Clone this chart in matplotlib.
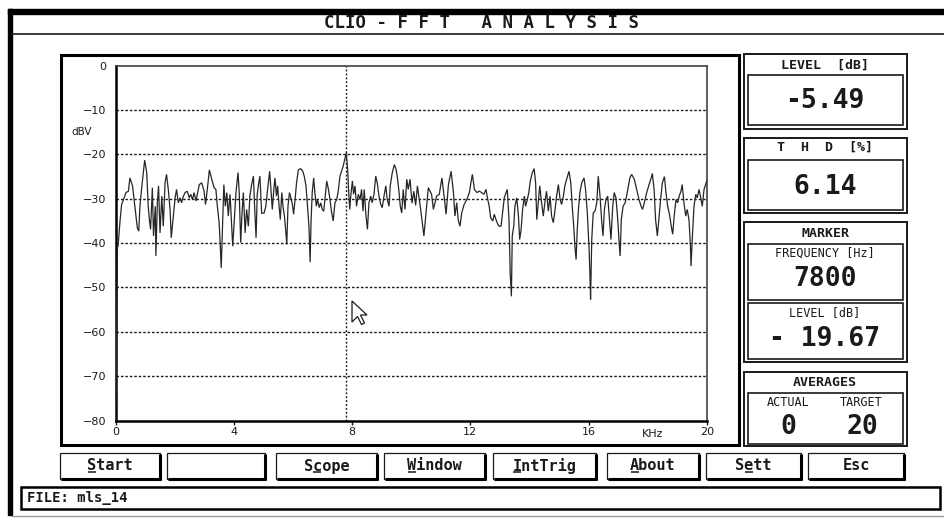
"""Recreate the CLIO FFT analysis screen (spectrum of an MLS signal)."""

import matplotlib

matplotlib.use("Agg")
import matplotlib.pyplot as plt
from matplotlib.patches import Polygon, Rectangle

W, H = 945, 521

# spectrum: frequency in kHz, level in dBV
freq_khz = [
    0.00, 0.03, 0.06, 0.08, 0.15, 0.20, 0.26, 0.35, 0.43, 0.48,
    0.57, 0.65, 0.73, 0.78, 0.82, 0.88, 0.94, 0.98, 1.05, 1.10,
    1.14, 1.18, 1.24, 1.28, 1.34, 1.36, 1.41, 1.45, 1.50, 1.56,
    1.61, 1.67, 1.72, 1.78, 1.84, 1.88, 1.95, 2.01, 2.06, 2.12,
    2.18, 2.23, 2.29, 2.35, 2.42, 2.49, 2.54, 2.60, 2.65, 2.72,
    2.76, 2.83, 2.91, 2.99, 3.04, 3.10, 3.17, 3.25, 3.33, 3.39,
    3.44, 3.50, 3.54, 3.57, 3.62, 3.66, 3.71, 3.76, 3.81, 3.87,
    3.92, 3.96, 4.00, 4.07, 4.14, 4.18, 4.23, 4.27, 4.32, 4.38,
    4.43, 4.49, 4.54, 4.60, 4.66, 4.70, 4.75, 4.79, 4.84, 4.88,
    4.94,
    5.02, 5.08, 5.14, 5.21, 5.26, 5.30, 5.35, 5.39, 5.44, 5.48,
    5.53, 5.57, 5.62, 5.66, 5.71, 5.75, 5.79, 5.83, 5.88, 5.93,
    5.98, 6.02, 6.07, 6.12, 6.18, 6.26, 6.33, 6.38, 6.44, 6.50,
    6.54, 6.58, 6.61, 6.65, 6.70, 6.74, 6.79, 6.83, 6.89, 6.94,
    6.99, 7.04, 7.08, 7.14, 7.20, 7.25, 7.31, 7.36, 7.42, 7.48,
    7.53, 7.59, 7.70, 7.80, 7.85, 7.88, 7.92, 7.96, 8.01, 8.05,
    8.10, 8.15, 8.21, 8.27, 8.32, 8.37, 8.41, 8.47, 8.52, 8.57,
    8.63, 8.68, 8.74, 8.80, 8.85, 8.91, 8.97, 9.02, 9.08, 9.14,
    9.19, 9.25, 9.29, 9.36, 9.43, 9.49, 9.54, 9.59, 9.63, 9.68,
    9.73, 9.79, 9.85, 9.90,
    9.96, 10.03, 10.09, 10.15, 10.21, 10.32, 10.43, 10.58, 10.69, 10.75,
    10.86, 10.95, 11.04, 11.12, 11.18, 11.26, 11.35, 11.43, 11.48, 11.54,
    11.59, 11.65, 11.71, 11.79, 11.88, 11.97, 12.02, 12.07, 12.14, 12.22,
    12.31, 12.38, 12.46, 12.53, 12.58, 12.64, 12.69, 12.76, 12.81, 12.87,
    12.93, 12.98, 13.04, 13.10, 13.15, 13.21, 13.25, 13.31, 13.35, 13.39,
    13.42, 13.47, 13.51, 13.57, 13.63, 13.67, 13.72, 13.77, 13.83, 13.87,
    13.93, 13.98, 14.03, 14.10, 14.16, 14.21, 14.25, 14.29, 14.35, 14.40,
    14.47, 14.53, 14.58, 14.64, 14.70, 14.75,
    14.81, 14.87, 14.92, 14.98, 15.04, 15.09, 15.15, 15.20, 15.26, 15.34,
    15.40, 15.45, 15.50, 15.54, 15.58, 15.62, 15.66, 15.71, 15.77, 15.85,
    15.90, 15.96, 16.02, 16.05, 16.07, 16.11, 16.16, 16.22, 16.28, 16.33,
    16.39, 16.45, 16.49, 16.54, 16.59, 16.65, 16.70, 16.76, 16.82, 16.87,
    16.93, 16.99, 17.03, 17.07, 17.11, 17.17, 17.24, 17.29, 17.35, 17.40,
    17.46, 17.55, 17.63, 17.71, 17.78, 17.83, 17.89, 17.97, 18.05, 18.11,
    18.16, 18.22, 18.27, 18.33, 18.39, 18.44, 18.50, 18.57, 18.62, 18.68,
    18.75, 18.80, 18.85, 18.90, 18.96, 19.02, 19.07, 19.13, 19.17, 19.23,
    19.29, 19.34, 19.40, 19.45, 19.47, 19.51, 19.57, 19.63, 19.68, 19.74,
    19.80, 19.85, 19.91, 20.00,
]
level_db = [
    -80, -62, -41, -40.7, -34.7, -31.3, -30.2, -28.6, -28.3, -25.3,
    -27.1, -31.7, -36.5, -37.3, -31.7, -27.5, -23.8, -21.3, -24.1, -31.7,
    -34.7, -36.9, -27.5, -38.4, -31.7, -42.9, -30.9, -27.1, -37.7, -29.4,
    -36.2, -26.4, -24.5, -27.9, -32.4, -38.8, -33.9, -29.8, -27.9, -30.9,
    -29.8, -30.9, -29.4, -28.6, -28.3, -29.8, -29.0, -30.2, -28.6, -30.5,
    -29.0, -26.8, -26.4, -28.3, -31.3, -27.9, -23.5, -25.6, -27.5, -27.9,
    -31.7, -35.4, -40.7, -45.6, -35.4, -26.8, -31.7, -28.6, -33.9, -29.0,
    -35.4, -40.7, -36.2, -28.6, -24.1, -28.6, -39.9, -33.9, -28.6, -37.7,
    -32.4, -36.2, -29.4, -26.8, -24.9, -31.7, -38.8, -29.0, -26.4, -24.9,
    -33.3,
    -33.2, -31.7, -27.9, -23.8, -28.6, -32.4, -27.9, -25.3, -29.4, -27.1,
    -31.7, -34.7, -28.6, -31.7, -33.9, -36.9, -40.3, -31.7, -28.6, -29.8,
    -31.3, -33.5, -30.2, -26.4, -23.5, -23.2, -23.8, -24.9, -27.1, -32.4,
    -36.2, -44.3, -35.4, -28.6, -25.3, -28.6, -31.7, -30.2, -32.0, -30.9,
    -32.4, -32.8, -30.2, -26.0, -27.9, -30.2, -33.2, -35.0, -30.9, -30.2,
    -28.3, -24.9, -22.6, -19.7, -23.4, -27.9, -32.4, -29.0, -26.0, -29.0,
    -27.1, -31.7, -29.0, -30.2, -27.9, -32.8, -27.9, -33.9, -36.9, -30.9,
    -29.4, -30.9, -29.0, -24.9, -26.4, -29.4, -31.3, -32.0, -29.4, -27.1,
    -30.2, -31.7, -27.1, -24.1, -22.3, -23.4, -25.6, -28.6, -31.7, -33.2,
    -27.9, -32.4, -25.6, -27.9,
    -25.6, -31.0, -28.3, -31.5, -27.1, -32.4, -38.4, -27.5, -29.0, -32.4,
    -29.4, -29.0, -25.3, -29.8, -33.5, -26.8, -23.8, -28.6, -33.9, -30.9,
    -34.7, -36.2, -33.2, -31.3, -30.2, -28.6, -26.4, -24.5, -27.9, -28.6,
    -28.3, -28.6, -29.0, -27.9, -29.8, -31.7, -34.3, -35.0, -33.5, -34.7,
    -35.8, -36.2, -36.2, -32.8, -29.8, -28.6, -27.9, -34.7, -46.7, -52.0,
    -38.4, -36.2, -31.7, -29.8, -33.9, -39.2, -36.9, -32.4, -29.4, -31.7,
    -30.2, -28.6, -26.0, -24.1, -23.2, -26.4, -34.7, -31.7, -27.1, -30.2,
    -33.9, -30.5, -28.3, -32.8, -29.4, -33.9,
    -35.4, -32.4, -29.4, -26.8, -30.2, -31.3, -29.4, -27.1, -25.6, -23.8,
    -26.4, -31.7, -36.2, -40.7, -43.7, -36.9, -32.4, -28.6, -26.4, -25.3,
    -27.9, -33.2, -41.4, -47.4, -52.7, -39.2, -33.2, -32.8, -30.9, -24.9,
    -29.4, -35.4, -38.4, -32.4, -30.2, -29.4, -33.9, -39.2, -31.7, -28.6,
    -29.8, -34.7, -39.2, -42.9, -34.7, -31.7, -30.9, -29.4, -27.1, -25.3,
    -24.5, -25.6, -27.9, -30.2, -31.7, -32.4, -30.9, -28.6, -26.8, -25.6,
    -24.3, -27.9, -34.7, -38.4, -33.9, -30.2, -26.4, -25.0, -28.6, -31.7,
    -33.9, -36.2, -38.0, -33.9, -30.2, -30.9, -29.4, -28.3, -26.8, -30.9,
    -33.9, -32.4, -34.7, -40.7, -45.2, -39.2, -31.7, -29.0, -29.8, -27.9,
    -29.8, -31.7, -27.9, -26.0,
]

y_ticks = [0, -10, -20, -30, -40, -50, -60, -70, -80]
x_ticks = [0, 4, 8, 12, 16, 20]
grid_levels = [-10, -20, -30, -40, -50, -60, -70]
marker_khz = 7.8

title_text = "CLIO - F F T   A N A L Y S I S"
level_value = "-5.49"
thd_value = "6.14"
marker_freq = "7800"
marker_level = "- 19.67"
avg_actual = "0"
avg_target = "20"
buttons = ["Start", "", "Scope", "Window", "IntTrig", "About", "Sett", "Esc"]
hotkeys = [0, None, 1, 0, 0, 0, 1, None]
file_label = "FILE: mls_14"

MONO = "DejaVu Sans Mono"
INK = "#1a1a1a"

fig = plt.figure(figsize=(W / 100, H / 100), dpi=100)
fig.patch.set_facecolor("white")

# screen overlay in pixel units (y grows downwards)
ui = fig.add_axes([0, 0, 1, 1], zorder=0)
ui.set_xlim(0, W)
ui.set_ylim(H, 0)
ui.axis("off")


def frame(x0, y0, x1, y1, lw=1.1, color=INK, fill=None):
    ui.add_patch(Rectangle((x0, y0), x1 - x0, y1 - y0,
                           facecolor=fill if fill else "none",
                           edgecolor=color, linewidth=lw))


def label(x, y, s, size=9, weight="bold", ha="center", **kw):
    return ui.text(x, y, s, fontsize=size, family=MONO, weight=weight,
                   ha=ha, va="center", color=INK, **kw)


# window border and title bar
ui.add_patch(Rectangle((8, 9), W - 8, 5, color="black"))
ui.add_patch(Rectangle((8, 9), 4, 506, color="black"))
ui.plot([12, W], [34, 34], color=INK, lw=1.2)
ui.plot([12, W], [516, 516], color="#9a9a9a", lw=1.0)
label(482, 22.5, title_text, size=12.5)

# plot box
frame(61, 54.5, 739, 444.5, lw=2.2, color="black")
ui.text(82, 132, "dBV", fontsize=7.5, ha="center", va="center", color=INK)
ui.text(653, 434, "KHz", fontsize=8, ha="center", va="center", color=INK)

# right-hand readouts
px0, px1, ix0, ix1, cx = 743.5, 907, 748, 902.5, 825
frame(px0, 53.5, px1, 128.5, lw=1.4)
frame(ix0, 74.5, ix1, 125, lw=1.2)
label(cx, 65.5, "LEVEL  [dB]", size=9.5)
label(cx, 101.5, level_value, size=19)

frame(px0, 138, px1, 213, lw=1.4)
frame(ix0, 159.5, ix1, 209.5, lw=1.2)
label(cx, 147.5, "T  H  D  [%]", size=9.5)
label(cx, 186.5, thd_value, size=19)

frame(px0, 222, px1, 362, lw=1.4)
label(cx, 233.5, "MARKER", size=9.5)
frame(ix0, 243.5, ix1, 299.5, lw=1.2)
label(cx, 253, "FREQUENCY [Hz]", size=8.5, weight="normal")
label(cx, 278.5, marker_freq, size=19)
frame(ix0, 302.5, ix1, 359, lw=1.2)
label(cx, 313, "LEVEL [dB]", size=8.5, weight="normal")
label(cx, 338.5, marker_level, size=19)

frame(px0, 372, px1, 446, lw=1.4)
label(cx, 382, "AVERAGES", size=9.5)
frame(ix0, 393, ix1, 443.5, lw=1.2)
label(788, 402.5, "ACTUAL", size=8.5, weight="normal")
label(861, 402.5, "TARGET", size=8.5, weight="normal")
label(788, 427, avg_actual, size=19)
label(862, 427, avg_target, size=19)

# function buttons
button_spans = [(60, 160), (167, 265), (276, 377), (384, 485),
                (493, 596), (607, 699), (706, 801), (808, 904)]
by0, by1 = 453, 479
button_texts = []
for (bx0, bx1), name, hk in zip(button_spans, buttons, hotkeys):
    frame(bx0, by0, bx1, by1, lw=0.9, fill="white")
    ui.plot([bx1, bx1], [by0 + 1, by1 + 1], color="black", lw=2.2,
            solid_capstyle="butt")
    ui.plot([bx0 + 1, bx1 + 1], [by1, by1], color="black", lw=2.2,
            solid_capstyle="butt")
    if name:
        t = label((bx0 + bx1) / 2, (by0 + by1) / 2, name, size=11)
        button_texts.append((t, hk))

# status line
frame(21, 487, 940, 509, lw=1.8, color="black")
label(27, 498, file_label, size=10, ha="left")

# spectrum axes
ax_l, ax_r, ax_t, ax_b = 115.7, 706.7, 65.7, 420.5
ax = fig.add_axes([ax_l / W, 1 - ax_b / H, (ax_r - ax_l) / W, (ax_b - ax_t) / H],
                  zorder=1)
ax.patch.set_visible(False)
ax.set_xlim(0, 20)
ax.set_ylim(-80, 0)

for lv in grid_levels:
    ax.axhline(lv, color=INK, lw=1.0, linestyle=(0, (1.8, 1.4)), zorder=1)
ax.axvline(marker_khz, color=INK, lw=1.0, linestyle=(0, (1.4, 1.4)), zorder=1)

ax.plot(freq_khz, level_db, color="#262626", lw=0.9, zorder=3,
        solid_joinstyle="miter")

ax.set_yticks(y_ticks)
ax.set_xticks(x_ticks)
ax.tick_params(axis="y", length=0, pad=7, labelsize=8, labelcolor=INK)
ax.tick_params(axis="x", length=3, width=1, direction="out", pad=2,
               labelsize=8, labelcolor=INK, color=INK)
for side in ("left", "bottom"):
    ax.spines[side].set_linewidth(1.8)
    ax.spines[side].set_color("black")
for side in ("top", "right"):
    ax.spines[side].set_linewidth(1.1)
    ax.spines[side].set_color("#333333")

# mouse pointer left on the screen
tip_x, tip_y = 352, 301
arrow = [(0, 0), (0, 21), (5.5, 15.5), (9.5, 23.5), (12.5, 22), (8.5, 14), (15, 14)]
ax.add_patch(Polygon([(tip_x + dx, tip_y + dy) for dx, dy in arrow], closed=True,
                     facecolor="white", edgecolor=INK, lw=0.9,
                     transform=ui.transData, clip_on=False, zorder=5))

# underline the keyboard shortcut letter of each button
fig.canvas.draw()
renderer = fig.canvas.get_renderer()
inv = ui.transData.inverted()
for t, hk in button_texts:
    if hk is None:
        continue
    bb = t.get_window_extent(renderer)
    (x0, y_bot), (x1, _) = inv.transform([[bb.x0, bb.y0], [bb.x1, bb.y1]])
    cw = (x1 - x0) / len(t.get_text())
    ui.plot([x0 + hk * cw + 0.5, x0 + (hk + 1) * cw - 0.5], [y_bot - 2, y_bot - 2],
            color=INK, lw=1.1, solid_capstyle="butt")

fig.savefig("out.png", dpi=100)
